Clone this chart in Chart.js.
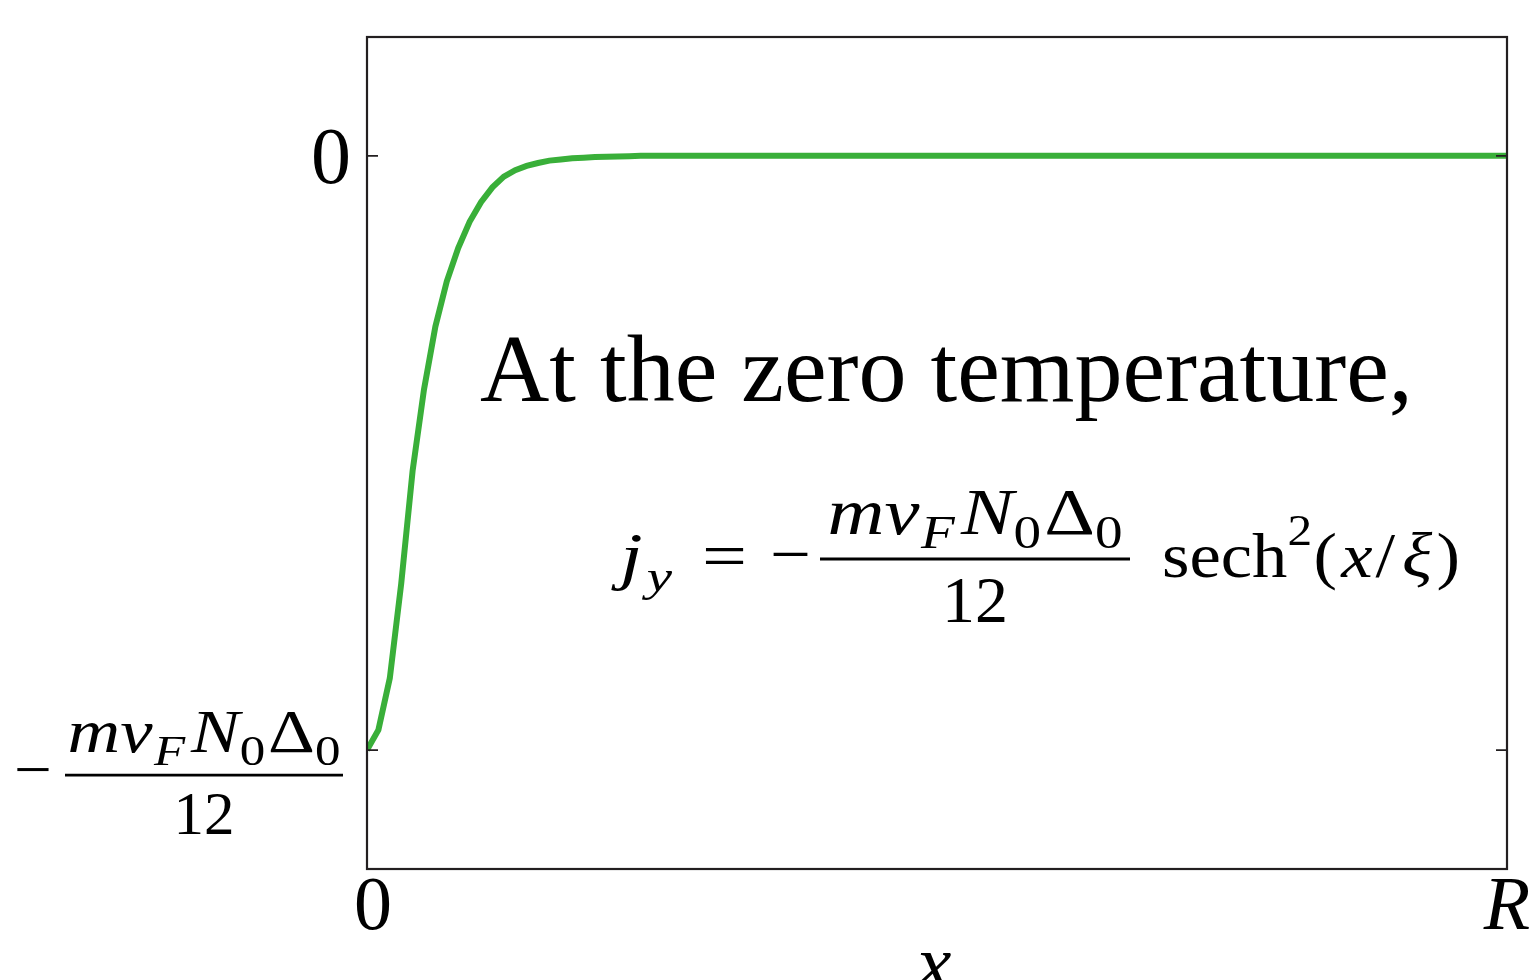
<!DOCTYPE html>
<html lang="en">
<head>
    <meta charset="UTF-8">
    <title>Zero temperature current profile</title>
    <style>
      * {
    margin: 0;
    padding: 0;
    box-sizing: border-box;
}

body {
    background: #ffffff;
    width: 1533px;
    height: 980px;
    overflow: hidden;
}

#chart-box {
    position: absolute;
    top: 0;
    left: 0;
    width: 1533px;
    height: 980px;
}
    </style>
</head>
<body>
    <div id="chart-box">
        <canvas id="currentChart" width="1533" height="980"></canvas>
    </div>
<script src="https://cdn.jsdelivr.net/npm/chart.js"></script>
    <script>
        // position across the sample, in units of R/100
        const xVals = [0, 1, 2, 3, 4, 5, 6, 7, 8, 9, 10, 11, 12, 13, 14, 15, 16, 17, 18, 19, 20, 21, 22, 23, 24, 100];
        // j_y in units of m v_F N_0 Delta_0 / 12
        const jyVals = [-1.0, -0.966, -0.879, -0.72, -0.53, -0.393, -0.287, -0.211, -0.155, -0.111, -0.078, -0.053, -0.035, -0.024, -0.017, -0.012, -0.008, -0.006, -0.004, -0.003, -0.002, -0.0015, -0.001, -0.0005, 0, 0];
        // tick positions on each axis
        const yTicks = [0, -1];
        const xTicks = [0, 100];
        const xTickLabels = ['0', 'R'];

        const SERIF = '"Liberation Serif", "DejaVu Serif", serif';
        const INK = '#231f20';

        // lay out a row of math pieces; returns natural width
        function runWidth(ctx, parts, size) {
            let w = 0;
            parts.forEach(p => {
                const sz = (p.sub || p.sup) ? size * 0.7 : size;
                ctx.font = (p.i ? 'italic ' : '') + sz + 'px ' + SERIF;
                w += ctx.measureText(p.s).width + (p.gap || 0) * size;
            });
            return w;
        }

        function drawRun(ctx, parts, x0, base, size, target) {
            const natural = runWidth(ctx, parts, size);
            const sx = target ? target / natural : 1;
            ctx.save();
            ctx.translate(x0, base);
            ctx.scale(sx, 1);
            ctx.textBaseline = 'alphabetic';
            ctx.textAlign = 'left';
            let x = 0;
            parts.forEach(p => {
                const sz = (p.sub || p.sup) ? size * 0.7 : size;
                ctx.font = (p.i ? 'italic ' : '') + sz + 'px ' + SERIF;
                let dy = 0;
                if (p.sub) dy = size * 0.22;
                if (p.sup) dy = -size * 0.5;
                ctx.fillText(p.s, x, dy);
                x += ctx.measureText(p.s).width + (p.gap || 0) * size;
            });
            ctx.restore();
        }

        const numerParts = [
            { s: 'm', i: 1 }, { s: 'v', i: 1, gap: 0.02 }, { s: 'F', i: 1, sub: 1, gap: 0.08 },
            { s: 'N', i: 1 }, { s: '0', sub: 1, gap: 0.04 }, { s: 'Δ' }, { s: '0', sub: 1 }
        ];

        // draws -(m v_F N_0 Δ_0)/12 with the bar at barY
        function drawFraction(ctx, minusX, barX0, barX1, barY, size, numW) {
            ctx.save();
            ctx.fillStyle = '#000';
            ctx.strokeStyle = '#000';
            ctx.font = size + 'px ' + SERIF;
            ctx.textAlign = 'left';
            ctx.textBaseline = 'alphabetic';
            // minus sign drawn as text
            const mw = ctx.measureText('−').width;
            ctx.save();
            ctx.translate(minusX, barY + size * 0.25);
            ctx.scale(size * 0.62 / mw, 1);
            ctx.fillText('−', 0, 0);
            ctx.restore();
            ctx.lineWidth = size * 0.045;
            ctx.beginPath();
            ctx.moveTo(barX0, barY);
            ctx.lineTo(barX1, barY);
            ctx.stroke();
            const cx = (barX0 + barX1) / 2;
            drawRun(ctx, numerParts, cx - numW / 2, barY - size * 0.38, size, numW);
            ctx.textAlign = 'center';
            ctx.font = size + 'px ' + SERIF;
            ctx.fillText('12', cx, barY + size * 0.96);
            ctx.restore();
        }

        const framePlugin = {
            id: 'frameAndText',
            afterDatasetsDraw(chart) {
                const ctx = chart.ctx;
                const a = chart.chartArea;
                const xs = chart.scales.x;
                const ys = chart.scales.y;

                // plot frame
                ctx.save();
                ctx.strokeStyle = INK;
                ctx.lineWidth = 2.2;
                ctx.strokeRect(a.left, a.top, a.right - a.left, a.bottom - a.top);

                // inward ticks on left and right
                ctx.lineWidth = 1.6;
                yTicks.forEach(v => {
                    const py = ys.getPixelForValue(v);
                    ctx.beginPath();
                    ctx.moveTo(a.left, py);
                    ctx.lineTo(a.left + 11, py);
                    ctx.moveTo(a.right, py);
                    ctx.lineTo(a.right - 11, py);
                    ctx.stroke();
                });

                ctx.fillStyle = '#000';
                ctx.textBaseline = 'alphabetic';

                // y tick labels
                const y0 = ys.getPixelForValue(0);
                ctx.font = '80px ' + SERIF;
                ctx.textAlign = 'right';
                ctx.fillText('0', a.left - 16, y0 + 27);
                const y1 = ys.getPixelForValue(-1);
                drawFraction(ctx, 14, 65, 343, y1 + 25, 61, 273);

                // x tick labels
                xTicks.forEach((v, i) => {
                    const px = xs.getPixelForValue(v);
                    ctx.font = (i === 1 ? 'italic ' : '') + '76px ' + SERIF;
                    ctx.textAlign = 'center';
                    ctx.fillText(xTickLabels[i], px + (i === 1 ? 0 : 6), a.bottom + 60);
                });

                // x axis title
                ctx.font = 'italic 78px ' + SERIF;
                ctx.textAlign = 'center';
                ctx.fillText('x', (a.left + a.right) / 2 - 3, a.bottom + 120);

                // annotation
                ctx.font = '96px ' + SERIF;
                ctx.textAlign = 'left';
                ctx.fillText('At the zero temperature,', 480, 401);

                // j_y = ...
                drawRun(ctx, [{ s: 'j', i: 1, gap: 0.05 }, { s: 'y', i: 1, sub: 1 }], 620, 577, 64, 52);
                ctx.font = '64px ' + SERIF;
                const ew = ctx.measureText('=').width;
                ctx.save();
                ctx.translate(702, 577);
                ctx.scale(45 / ew, 1);
                ctx.fillText('=', 0, 0);
                ctx.restore();
                drawFraction(ctx, 770, 820, 1130, 559, 66, 295);
                drawRun(ctx, [
                    { s: 'sech' }, { s: '2', sup: 1, gap: 0.02 }, { s: '(' , gap: 0.06 },
                    { s: 'x', i: 1, gap: 0.04 }, { s: '/', gap: 0.1 }, { s: 'ξ', i: 1, gap: 0.06 }, { s: ')' }
                ], 1162, 577, 64, 298);
                ctx.restore();
            }
        };

        const ctx = document.getElementById('currentChart').getContext('2d');
        const currentChart = new Chart(ctx, {
            type: 'line',
            data: {
                datasets: [{
                    label: 'j_y',
                    data: xVals.map((x, i) => ({ x: x, y: jyVals[i] })),
                    borderColor: '#39af39',
                    borderWidth: 6,
                    pointRadius: 0,
                    tension: 0,
                    fill: false
                }]
            },
            options: {
                responsive: false,
                animation: false,
                devicePixelRatio: 1,
                layout: {
                    padding: { left: 367, top: 37, right: 26, bottom: 111 }
                },
                scales: {
                    x: { type: 'linear', min: 0, max: 100, display: false },
                    y: { type: 'linear', min: -1.2, max: 0.2, display: false }
                },
                plugins: {
                    legend: { display: false },
                    tooltip: { enabled: false }
                }
            },
            plugins: [framePlugin]
        });
    </script>
</body>
</html>
